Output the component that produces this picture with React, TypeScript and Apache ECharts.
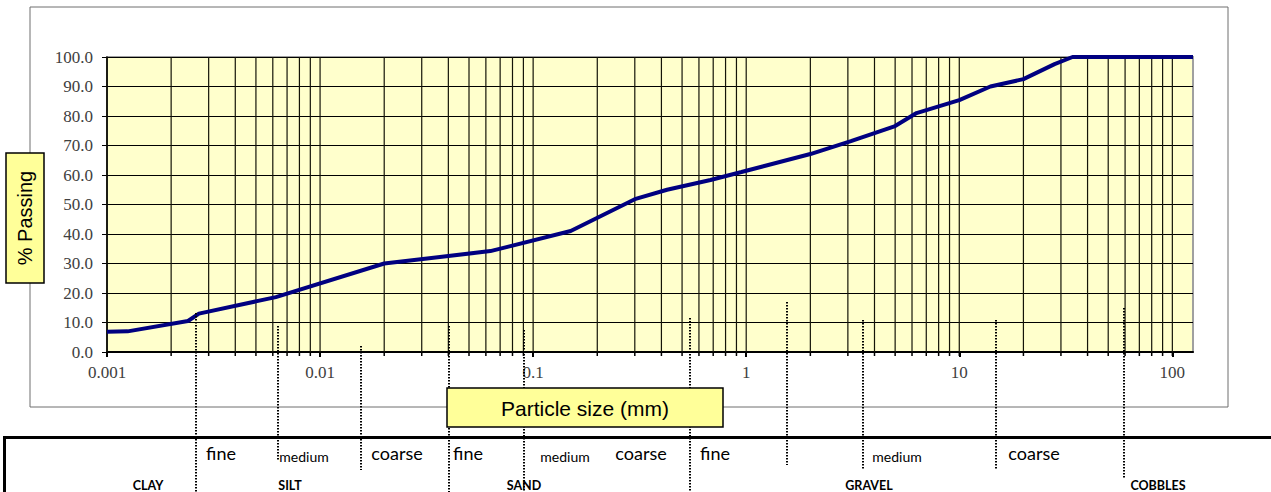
import React, { useEffect, useRef } from "react";
import * as echarts from "echarts";

// Particle size (mm) and % passing
const particleSize = [0.001, 0.00125, 0.0024, 0.0027, 0.0062, 0.02, 0.063, 0.15, 0.3, 0.425, 0.68, 0.95, 2, 3.1, 5, 6.3, 10, 14, 20, 28, 34, 125];
const percentPassing = [6.9, 7.0, 10.5, 13.0, 18.6, 30.0, 34.2, 41.0, 51.8, 55.0, 58.3, 61.0, 67.1, 71.5, 76.6, 81.0, 85.4, 90.0, 92.5, 97.6, 100, 100];

const xMajorLabels = ["0.001", "0.01", "0.1", "1", "10", "100"];
const yTickLabels = ["0.0", "10.0", "20.0", "30.0", "40.0", "50.0", "60.0", "70.0", "80.0", "90.0", "100.0"];

// log grid values (1..9 per decade)
const decades = [0.001, 0.01, 0.1, 1, 10, 100];
const multipliers = [1, 2, 3, 4, 5, 6, 7, 8, 9];

// soil classification table
const subLabels = ["fine", "medium", "coarse", "fine", "medium", "coarse", "fine", "medium", "coarse"];
const mainLabels = ["CLAY", "SILT", "SAND", "GRAVEL", "COBBLES"];

// layout (pixels)
const subLabelX = [221, 304, 397, 468, 565, 641, 715, 897, 1034];
const mainLabelX = [148, 290, 524, 869, 1158];
const dottedLines: [number, number, number][] = [
  [196, 313, 492],
  [278, 326, 460],
  [361, 346, 470],
  [449, 326, 492],
  [524, 330, 492],
  [690, 318, 492],
  [787, 302, 465],
  [863, 320, 470],
  [996, 320, 470],
  [1124, 308, 478],
];

export default function App() {
  const ref = useRef<HTMLDivElement>(null);

  useEffect(() => {
    if (!ref.current) return;
    const chart = echarts.init(ref.current, null, { renderer: "svg" });

    const gridValues: number[][] = [];
    decades.forEach((d) => {
      multipliers.forEach((m) => {
        const v = +(d * m).toPrecision(3);
        if (v <= 125) gridValues.push([v, 0]);
      });
    });

    const graphics: any[] = [];
    graphics.push({
      type: "rect",
      z: 0,
      shape: { x: 30, y: 7, width: 1198, height: 400 },
      style: { fill: "none", stroke: "#6e6e6e", lineWidth: 1 },
      silent: true,
    });
    graphics.push({
      type: "rect",
      z: 10,
      shape: { x: 6, y: 153, width: 38, height: 130 },
      style: { fill: "#FFFF99", stroke: "#000", lineWidth: 1.5 },
    });
    graphics.push({
      type: "text",
      z: 11,
      x: 25,
      y: 218,
      rotation: Math.PI / 2,
      style: {
        text: "% Passing",
        font: "20px 'Liberation Sans', Arial, sans-serif",
        fill: "#000",
        align: "center",
        verticalAlign: "middle",
        textAlign: "center",
        textVerticalAlign: "middle",
      },
    });
    graphics.push({
      type: "line",
      z: 10,
      shape: { x1: 3, y1: 437.5, x2: 1271, y2: 437.5 },
      style: { stroke: "#000", lineWidth: 3 },
    });
    graphics.push({
      type: "line",
      z: 10,
      shape: { x1: 4.5, y1: 436, x2: 4.5, y2: 492 },
      style: { stroke: "#000", lineWidth: 3 },
    });
    dottedLines.forEach(([x, y1, y2]) => {
      graphics.push({
        type: "line",
        z: 20,
        shape: { x1: x, y1, x2: x, y2 },
        style: { stroke: "#000", lineWidth: 2, lineDash: [1.5, 1.5] },
      });
    });
    graphics.push({
      type: "rect",
      z: 30,
      shape: { x: 447, y: 388, width: 276, height: 39 },
      style: { fill: "#FFFF99", stroke: "#000", lineWidth: 1.5 },
    });
    graphics.push({
      type: "text",
      z: 31,
      x: 585,
      y: 408,
      style: {
        text: "Particle size (mm)",
        font: "21px 'Liberation Sans', Arial, sans-serif",
        fill: "#000",
        align: "center",
        verticalAlign: "middle",
        textAlign: "center",
        textVerticalAlign: "middle",
      },
    });
    subLabels.forEach((t, i) => {
      const small = t === "medium";
      graphics.push({
        type: "text",
        z: 25,
        x: subLabelX[i],
        y: small ? 456 : 453,
        style: {
          text: t,
          font: (small ? "14px" : "18px") + " Lato, 'Open Sans', sans-serif",
          fill: "#000",
          align: "center",
          verticalAlign: "middle",
          textAlign: "center",
          textVerticalAlign: "middle",
        },
      });
    });
    mainLabels.forEach((t, i) => {
      graphics.push({
        type: "text",
        z: 25,
        x: mainLabelX[i],
        y: 485,
        style: {
          text: t,
          font: "bold 12.5px Lato, 'Open Sans', sans-serif",
          fill: "#000",
          align: "center",
          verticalAlign: "middle",
          textAlign: "center",
          textVerticalAlign: "middle",
        },
      });
    });

    chart.setOption({
      animation: false,
      grid: {
        left: 107,
        top: 57,
        right: 78,
        bottom: 140,
        show: true,
        backgroundColor: "#FFFFCC",
        borderColor: "#a0a0a0",
        borderWidth: 2,
      },
      xAxis: {
        type: "log",
        logBase: 10,
        min: 0.001,
        max: 125,
        axisLine: { show: true, onZero: false, lineStyle: { color: "#000", width: 2 } },
        axisTick: { show: true, length: 5, lineStyle: { color: "#000", width: 2 } },
        splitLine: { show: false },
        axisLabel: {
          margin: 12,
          color: "#404040",
          fontFamily: "'Liberation Serif', 'Times New Roman', serif",
          fontSize: 17,
          showMaxLabel: false,
          formatter: (v: number) => {
            const idx = decades.findIndex((d) => Math.abs(d - v) / d < 1e-6);
            return idx >= 0 ? xMajorLabels[idx] : "";
          },
        },
      },
      yAxis: {
        type: "value",
        min: 0,
        max: 100,
        interval: 10,
        axisLine: { show: true, lineStyle: { color: "#000", width: 1.5 } },
        axisTick: { show: true, length: 5, lineStyle: { color: "#000" } },
        splitLine: { show: true, lineStyle: { color: "#000", width: 1 } },
        axisLabel: {
          margin: 14,
          color: "#404040",
          fontFamily: "'Liberation Serif', 'Times New Roman', serif",
          fontSize: 17,
          formatter: (v: number) => yTickLabels[Math.round(v / 10)] ?? "",
        },
      },
      series: [
        {
          type: "custom",
          clip: false,
          silent: true,
          z: 1,
          data: gridValues,
          encode: { x: 0, y: 1 },
          renderItem: (params: any, api: any) => {
            const x = api.value(0);
            const top = api.coord([x, 100]);
            const bot = api.coord([x, 0]);
            return {
              type: "group",
              children: [
                {
                  type: "line",
                  shape: { x1: bot[0], y1: top[1], x2: bot[0], y2: bot[1] },
                  style: { stroke: "#141408", lineWidth: 1.2 },
                },
                {
                  type: "line",
                  shape: { x1: bot[0], y1: bot[1], x2: bot[0], y2: bot[1] + 4 },
                  style: { stroke: "#000", lineWidth: 1.5 },
                },
              ],
            };
          },
        },
        {
          type: "line",
          z: 5,
          data: particleSize.map((s, i) => [s, percentPassing[i]]),
          showSymbol: false,
          symbol: "none",
          lineStyle: { color: "#000080", width: 4 },
          clip: true,
        },
      ],
      graphic: graphics,
    });

    return () => chart.dispose();
  }, []);

  return (
    <div
      ref={ref}
      style={{ position: "fixed", left: 0, top: 0, width: 1271, height: 492, background: "#fff" }}
    />
  );
}
